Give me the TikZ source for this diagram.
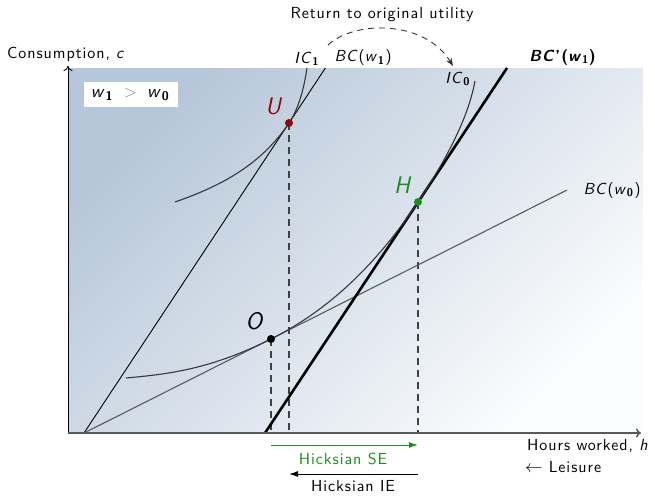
\documentclass[tikz,border=0pt]{standalone}
\usepackage{fontspec}
\usetikzlibrary{arrows.meta}
\newfontfamily\lmsans{lmsans10}[Extension=.otf, UprightFont=*-regular, BoldFont=*-bold, ItalicFont=*-oblique, BoldItalicFont=*-boldoblique, LetterSpace=6]
\definecolor{bgA}{RGB}{182,199,217}
\definecolor{bgB}{RGB}{251,252,253}
\definecolor{hgreen}{RGB}{30,140,30}
\definecolor{ured}{RGB}{140,10,10}
\definecolor{curvegray}{RGB}{55,55,55}
\definecolor{axgray}{RGB}{90,90,90}
\newcommand\lblfont{\lmsans\fontsize{16}{19}\selectfont}
\newcommand\ptfont{\sffamily\fontsize{24}{28}\selectfont}
\tikzset{
  lbl/.style={font=\lblfont, inner sep=0pt},
  ptlbl/.style={font=\ptfont\itshape, inner sep=0pt},
  icurve/.style={draw=curvegray, line width=1.1pt},
  bcline/.style={draw=black, line width=0.9pt},
  vdash/.style={draw=black!75, line width=1.2pt, dash pattern=on 7pt off 5pt},
}
\begin{document}
\begin{tikzpicture}[x=1pt,y=-1pt]
\useasboundingbox (0,0) rectangle (655,495);
% background
\shade[top color=bgA,bottom color=bgB,shading angle=45] (68,68) rectangle (643,433);
% coordinates
\coordinate (ax0) at (68,433);
\coordinate (axY) at (68,66);
\coordinate (axX) at (641,433);
\coordinate (orig) at (84,433);
\coordinate (U) at (289,123);
\coordinate (O) at (271,339);
\coordinate (H) at (418,202);
\coordinate (bcw1top) at (325.4,68);
\coordinate (bcw0end) at (567,190);
\coordinate (bcpbot) at (265,433);
\coordinate (bcptop) at (507,68);
\coordinate (Ob) at (271,433);
\coordinate (Ub) at (289,433);
\coordinate (Hb) at (418,433);
\coordinate (ic0s) at (126,378);
\coordinate (ic0e) at (475,81);
\coordinate (ic1s) at (175,202);
\coordinate (ic1e) at (307,68);
\coordinate (arcS) at (328,45);
\coordinate (arcE) at (453,66);
\coordinate (seS) at (271,445);
\coordinate (seE) at (418,445);
\coordinate (ieS) at (418,474);
\coordinate (ieE) at (289,474);
% dashed verticals
\draw[vdash] (O) -- (Ob);
\draw[vdash] (U) -- (Ub);
\draw[vdash] (H) -- (Hb);
% budget lines
\draw[bcline] (orig) -- (bcw1top);
\draw[draw=axgray, line width=1.1pt] (orig) -- (bcw0end);
\draw[draw=black, line width=2.6pt] (bcpbot) -- (bcptop);
% indifference curves
\draw[icurve] (ic0s) .. controls (170,374) and (211,369) .. (O)
  .. controls (331,309) and (378,262) .. (H)
  .. controls (456,145) and (470,108) .. (ic0e);
\draw[icurve] (ic1s) .. controls (215,188) and (259,168) .. (U)
  .. controls (299,108) and (304,88) .. (ic1e);
% axes
\draw[draw=black, line width=0.9pt, -{To[length=5pt,width=9pt]}] (ax0) -- (axY);
\draw[draw=axgray, line width=1.5pt, -{To[length=5pt,width=9pt]}] (ax0) -- (axX);
% points
\fill[ured] (U) circle[radius=4pt];
\fill[black] (O) circle[radius=4pt];
\fill[hgreen] (H) circle[radius=4pt];
% point labels
\node[ptlbl, text=ured] (Ul) at (273,106) {U};
\node[ptlbl, text=black] (Ol) at (254,321) {O};
\node[ptlbl, text=hgreen] (Hl) at (402,185) {H};
% return arc
\draw[black!80, line width=0.9pt, dash pattern=on 6pt off 5pt, -{Stealth[length=8pt,width=6pt]}]
  (arcS) .. controls (355,20) and (425,20) .. (arcE);
% Hicksian arrows
\draw[hgreen, line width=1pt, -{Latex[length=9pt,width=6pt]}] (seS) -- (seE);
\draw[black, line width=1pt, -{Latex[length=9pt,width=6pt]}] (ieS) -- (ieE);
% labels
\node[lbl] (ret) at (382,15) {Return to original utility};
\node[lbl, anchor=west] (ylab) at (7,54) {Consumption, \textit{c}};
\node[lbl] (ic1l) at (307,59) {\textit{IC}\textsubscript{\textbf{1}}};
\node[lbl] (bcw1l) at (363,58) {\textit{BC}(\textit{w}\textsubscript{\textbf{1}})};
\node[lbl] (ic0l) at (458,79) {\textit{IC}\textsubscript{\textbf{0}}};
\node[lbl] (bcpl) at (563,57) {\textbf{\textit{BC}\textquoteright(\textit{w}\textsubscript{1})}};
\node[lbl] (bcw0l) at (612,190) {\textit{BC}(\textit{w}\textsubscript{\textbf{0}})};
\node[lbl, fill=white, minimum width=94pt, minimum height=25pt, font=\lmsans\fontsize{18}{21}\selectfont] (wbox) at (130.5,94.5)
  {\textit{w}\textsubscript{\textbf{1}}\, \textcolor{gray}{$>$}\, \textit{w}\textsubscript{\textbf{0}}};
\node[lbl, anchor=west] (xlab) at (527,446) {Hours worked, \textit{h}};
\node[lbl, anchor=west] (leis) at (525,467) {$\leftarrow$ Leisure};
\node[lbl, text=hgreen] (sel) at (343,459) {Hicksian SE};
\node[lbl] (iel) at (353,486) {Hicksian IE};
\end{tikzpicture}
\end{document}
